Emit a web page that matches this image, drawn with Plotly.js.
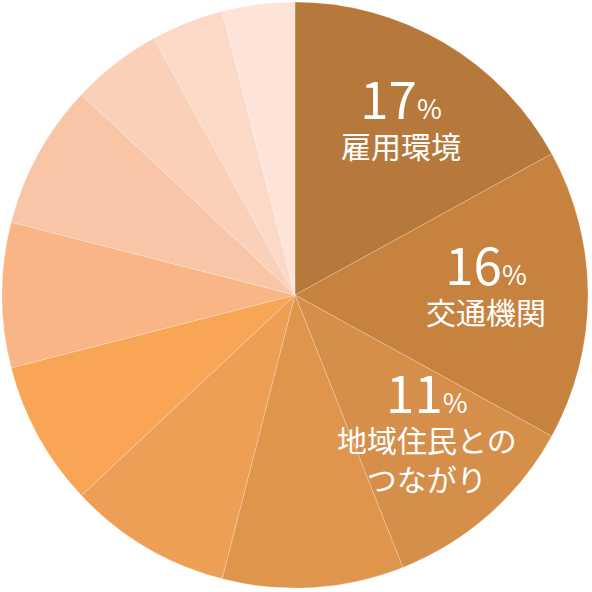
<!DOCTYPE html>
<html>
<head>
<meta charset="utf-8">
<script src="https://cdn.plot.ly/plotly-3.0.1.min.js"></script>
<style>html,body{margin:0;padding:0;background:#fff;}#chart{width:592px;height:592px;}</style>
</head>
<body>
<div id="chart"></div>
<script>
// Data (percent shares, clockwise from 12 o'clock)
const categories = ["雇用環境", "交通機関", "地域住民とのつながり", "項目4", "項目5", "項目6", "項目7", "項目8", "項目9", "項目10", "項目11"];
const shares = [17, 16, 11, 10, 9, 8, 8, 8, 5, 4, 4];
const sliceColors = ["#B6793B", "#C7823F", "#D58F4B", "#E0954D", "#EDA055", "#F8A656",
                     "#F9B585", "#F9C5A7", "#FAD0B8", "#FCD9C7", "#FDE3D8"];
// Labels drawn on the chart (first three slices)
const shownLabels = ["雇用環境", "交通機関", "地域住民との<br>つながり"];

const W = 592, H = 592;
// label block centre, in pixels from top-left
const labelPos = [[401, 114], [486, 279], [427, 427]];

const annotations = [];
for (let i = 0; i < shownLabels.length; i++) {
  annotations.push({
    x: labelPos[i][0] / W, y: 1 - labelPos[i][1] / H, xref: 'paper', yref: 'paper',
    xanchor: 'center', yanchor: 'middle', align: 'center', showarrow: false,
    text: "<span style='font-size:51px'>" + shares[i] + "</span>" +
          "<span style='font-size:27px'>%</span><br>" + shownLabels[i],
    font: {family: "'Noto Sans CJK JP', 'Noto Sans', sans-serif", size: 30, color: '#ffffff'}
  });
}

const trace = {
  type: 'pie',
  labels: categories,
  values: shares,
  sort: false,
  direction: 'clockwise',
  rotation: 0,
  marker: {colors: sliceColors, line: {color: 'rgba(255,255,255,0.35)', width: 0.6}},
  textinfo: 'none',
  hoverinfo: 'none',
  showlegend: false,
  domain: {x: [2 / W, 588 / W], y: [4 / H, 590 / H]}
};

Plotly.newPlot('chart', [trace], {
  width: W, height: H,
  margin: {l: 0, r: 0, t: 0, b: 0},
  paper_bgcolor: '#ffffff',
  showlegend: false,
  annotations: annotations
}, {displayModeBar: false, staticPlot: true});
</script>
</body>
</html>
